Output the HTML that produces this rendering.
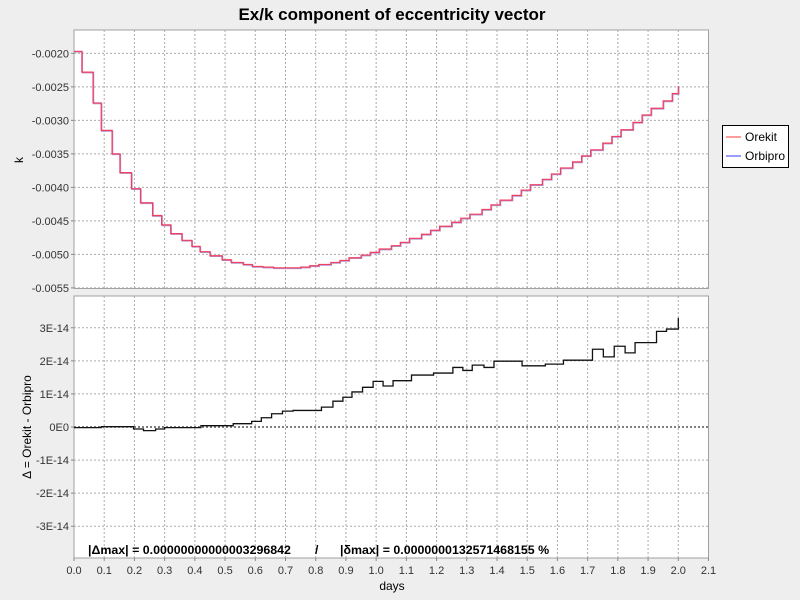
<!DOCTYPE html>
<html><head><meta charset="utf-8"><style>
body{margin:0;background:#eeeeee;}
svg{display:block;font-family:"Liberation Sans",sans-serif;}
</style></head><body>
<svg id="c" width="800" height="600">
<rect x="0" y="0" width="800" height="600" fill="#eeeeee"/>
<text x="392" y="20" text-anchor="middle" font-size="17" font-weight="bold" fill="#000">Ex/k component of eccentricity vector</text>
<rect x="74" y="30" width="634.5" height="258.5" fill="#fff" stroke="#a0a0a0"/>
<rect x="74" y="296" width="634.5" height="262" fill="#fff" stroke="#a0a0a0"/>
<g id="grid"></g>
<g id="marks"></g>
<g id="labels"></g>
<text transform="translate(23,160) rotate(-90)" text-anchor="middle" font-size="12">k</text>
<text transform="translate(31,427) rotate(-90)" text-anchor="middle" font-size="12">Δ = Orekit - Orbipro</text>
<text x="392" y="590" text-anchor="middle" font-size="12">days</text>
<text x="88" y="554" font-size="12.4" font-weight="bold">|Δmax| = 0.00000000000003296842</text>
<text x="315" y="554" font-size="12.4" font-weight="bold">/</text>
<text x="340" y="554" font-size="12.4" font-weight="bold">|δmax| = 0.0000000132571468155 %</text>
<g>
<rect x="722.5" y="125.5" width="66" height="42" fill="#fff" stroke="#000"/>
<line x1="726" y1="137" x2="741" y2="137" stroke="#ff7b7b" stroke-width="1.5"/>
<text x="745" y="141" font-size="12">Orekit</text>
<line x1="726" y1="156" x2="741" y2="156" stroke="#7b7bff" stroke-width="1.5"/>
<text x="745" y="160" font-size="12">Orbipro</text>
</g>
</svg>
<script>
const xTicks=[0,0.1,0.2,0.3,0.4,0.5,0.6,0.7,0.8,0.9,1.0,1.1,1.2,1.3,1.4,1.5,1.6,1.7,1.8,1.9,2.0,2.1];
const kTicks=[-0.0020,-0.0025,-0.0030,-0.0035,-0.0040,-0.0045,-0.0050,-0.0055];
const kTickLabels=["-0.0020","-0.0025","-0.0030","-0.0035","-0.0040","-0.0045","-0.0050","-0.0055"];
const dTicks=[3,2,1,0,-1,-2,-3];
const dTickLabels=["3E-14","2E-14","1E-14","0E0","-1E-14","-2E-14","-3E-14"];
const kDays=[0,0.026,0.063,0.09,0.126,0.152,0.19,0.22,0.26,0.29,0.32,0.357,0.39,0.417,0.45,0.49,0.52,0.56,0.59,0.625,0.66,0.71,0.75,0.78,0.81,0.85,0.88,0.91,0.95,0.98,1.01,1.05,1.08,1.11,1.15,1.18,1.21,1.25,1.28,1.31,1.35,1.38,1.41,1.45,1.48,1.51,1.55,1.58,1.61,1.65,1.68,1.71,1.75,1.78,1.81,1.85,1.88,1.91,1.95,1.98,2.0];
const kOrekit=[-0.00197,-0.00228,-0.00274,-0.00315,-0.0035,-0.00378,-0.00402,-0.00423,-0.00442,-0.00456,-0.00469,-0.00479,-0.00488,-0.00496,-0.00502,-0.00508,-0.00512,-0.00515,-0.00518,-0.00519,-0.0052,-0.0052,-0.00519,-0.00517,-0.00515,-0.00512,-0.00509,-0.00505,-0.00501,-0.00497,-0.00492,-0.00487,-0.00482,-0.00476,-0.0047,-0.00464,-0.00458,-0.00452,-0.00446,-0.0044,-0.00433,-0.00426,-0.00419,-0.00412,-0.00404,-0.00396,-0.00388,-0.0038,-0.00371,-0.00362,-0.00353,-0.00344,-0.00334,-0.00324,-0.00314,-0.00303,-0.00292,-0.00282,-0.00271,-0.0026,-0.00249];
const dDays=[0,0.09,0.197,0.23,0.27,0.3,0.42,0.527,0.588,0.62,0.654,0.69,0.725,0.819,0.857,0.89,0.92,0.955,0.99,1.023,1.056,1.117,1.19,1.254,1.287,1.318,1.357,1.39,1.483,1.56,1.62,1.716,1.752,1.788,1.824,1.857,1.928,1.961,1.99,2.0];
const dValues=[-0.02,0.01,-0.06,-0.11,-0.06,-0.02,0.04,0.1,0.17,0.28,0.4,0.48,0.5,0.6,0.78,0.9,1.06,1.2,1.38,1.24,1.4,1.57,1.63,1.8,1.71,1.87,1.8,1.99,1.85,1.9,2.02,2.35,2.12,2.44,2.24,2.55,2.89,2.96,2.96,3.3];

const NS="http://www.w3.org/2000/svg";
const X0=74,X1=708.5,XMIN=0,XMAX=2.1;
const xs=d=>X0+(d-XMIN)/(XMAX-XMIN)*(X1-X0);
const T0=30,T1=288.5,KMAX=-0.001652,KMIN=-0.005509;
const yk=v=>T0+(KMAX-v)/(KMAX-KMIN)*(T1-T0);
const B0=296,B1=558,DMAX=3.96,DMIN=-3.96;
const yd=v=>B0+(DMAX-v)/(DMAX-DMIN)*(B1-B0);
function mk(tag,attrs,parent){const e=document.createElementNS(NS,tag);for(const k in attrs)e.setAttribute(k,attrs[k]);parent.appendChild(e);return e;}
const grid=document.getElementById('grid'),marks=document.getElementById('marks'),labels=document.getElementById('labels');
xTicks.forEach((t,i)=>{
  const x=xs(t);
  if(i>0&&i<xTicks.length-1){
    const g1=mk('line',{x1:x,y1:T0,x2:x,y2:T1,stroke:'#aaa','stroke-dasharray':'2,2'},grid);
    
    
    const g2=mk('line',{x1:x,y1:B0,x2:x,y2:B1,stroke:'#aaa','stroke-dasharray':'2,2'},grid);
    
    
  }
  const tk=mk('line',{x1:x,y1:B1,x2:x,y2:B1+3,stroke:'#888'},grid);
  
  
  const tl=mk('text',{x:x,y:574,'text-anchor':'middle','font-size':'11',fill:'#333'},labels);
  tl.textContent=t.toFixed(1);
  
  
});
kTicks.forEach((t,i)=>{
  const y=yk(t);
  const g=mk('line',{x1:X0,y1:y,x2:X1,y2:y,stroke:'#aaa','stroke-dasharray':'2,2'},grid);
  
  
  const tk=mk('line',{x1:X0-3,y1:y,x2:X0,y2:y,stroke:'#888'},grid);
  
  
  const tl=mk('text',{x:X0-5,y:y+4,'text-anchor':'end','font-size':'11',fill:'#333'},labels);
  tl.textContent=kTickLabels[i];
  
  
});
dTicks.forEach((t,i)=>{
  const y=yd(t);
  const g=mk('line',{x1:X0,y1:y,x2:X1,y2:y,stroke:t===0?'#555':'#aaa','stroke-dasharray':'2,2','stroke-width':t===0?1.5:1},grid);
  
  
  const tk=mk('line',{x1:X0-3,y1:y,x2:X0,y2:y,stroke:'#888'},grid);
  
  
  const tl=mk('text',{x:X0-5,y:y+4,'text-anchor':'end','font-size':'11',fill:'#333'},labels);
  tl.textContent=dTickLabels[i];
  
  
});
function stepPath(days,vals,fy){
  let d='M'+xs(days[0])+','+fy(vals[0]);
  for(let i=1;i<days.length;i++){d+=' L'+xs(days[i])+','+fy(vals[i-1])+' L'+xs(days[i])+','+fy(vals[i]);}
  return d;
}
const pb=mk('path',{d:stepPath(kDays,kOrekit,yk),fill:'none',stroke:'#b090d0','stroke-width':1.4,transform:'translate(0.5,0.6)'},marks);


const pr=mk('path',{d:stepPath(kDays,kOrekit,yk),fill:'none',stroke:'#f04060','stroke-width':1.2},marks);


const pd=mk('path',{d:stepPath(dDays,dValues,yd),fill:'none',stroke:'#111','stroke-width':1.3},marks);


</script>
</body></html>
